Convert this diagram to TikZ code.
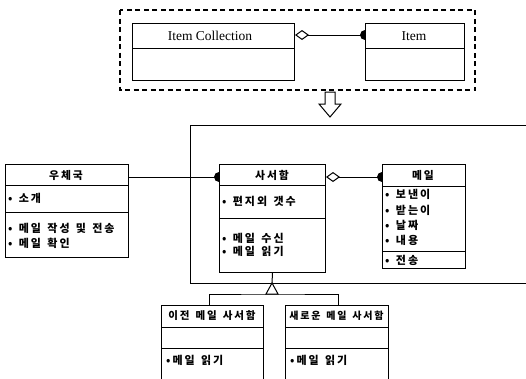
\documentclass[tikz,border=0pt]{standalone}
\usepackage{fontspec}
\setmainfont{Liberation Serif}
\newfontfamily\kr{Noto Sans CJK KR}[LetterSpace=18,WordSpace=1.4]
\usetikzlibrary{arrows.meta,calc}
\begin{document}
\begin{tikzpicture}[x=1pt,y=-1pt,
  ln/.style={line width=1pt},
  cls/.style={draw, fill=white, line width=1pt, inner sep=0pt, anchor=north west},
  en/.style={font=\fontsize{13.5}{15}\selectfont, inner sep=0pt},
  kh/.style={font=\kr\bfseries\fontsize{10.8}{12}\selectfont, inner sep=0pt},
  kt/.style={font=\kr\bfseries\fontsize{11}{12}\selectfont, inner sep=0pt, anchor=west}]
\useasboundingbox (0,0) rectangle (526,378);
\clip (0,0) rectangle (526,378);

% upper pattern
\draw[line width=1.3pt, dash pattern=on 5pt off 3.5pt] (120,10) rectangle (475,90);
\node[cls, minimum width=162pt, minimum height=57pt] (ic) at (132,23) {};
\node[cls, minimum width=99pt, minimum height=57pt] (it) at (365,23) {};
\draw[ln] (ic.west |- 0,48) -- (ic.east |- 0,48);
\draw[ln] (it.west |- 0,48) -- (it.east |- 0,48);
\node[en] (ict) at (210,36) {Item Collection};
\node[en] (itt) at (414,36) {Item};
\draw[ln, {Diamond[open,length=14pt,width=10pt]}-] (ic.east |- 0,35) -- (it.west |- 0,35);
\fill ($(it.west |- 0,35)+(0,-5)$) arc[start angle=90,end angle=270,radius=5pt] -- cycle;

% big hollow arrow
\draw[ln, fill=white] (325,92) -- (335,92) -- (335,104) -- (341,104) -- (330,117) -- (319,104) -- (325,104) -- cycle;

% frame
\draw[ln] (526,125) -- (190,125) -- (190,283) -- (526,283);

% classes
\node[cls, minimum width=123pt, minimum height=93pt] (wc) at (5,164) {};
\draw[ln] (wc.west |- 0,185) -- (wc.east |- 0,185);
\draw[ln] (wc.west |- 0,212) -- (wc.east |- 0,212);
\node[kh] (wct) at (66,175) {우체국};
\node[kt] (wc1) at (8,198) {• 소개};
\node[kt] (wc2) at (8,228) {• 메일 작성 및 전송};
\node[kt] (wc3) at (8,243) {• 메일 확인};

\node[cls, minimum width=106pt, minimum height=108pt] (ss) at (219,164) {};
\draw[ln] (ss.west |- 0,185) -- (ss.east |- 0,185);
\draw[ln] (ss.west |- 0,218) -- (ss.east |- 0,218);
\node[kh] (sst) at (272,175) {사서함};
\node[kt] (ss1) at (222,201) {• 편지외 갯수};
\node[kt] (ss2) at (222,238) {• 메일 수신};
\node[kt] (ss3) at (222,251) {• 메일 읽기};

\node[cls, minimum width=83pt, minimum height=104pt] (ml) at (382,164) {};
\draw[ln] (ml.west |- 0,186) -- (ml.east |- 0,186);
\draw[ln] (ml.west |- 0,251) -- (ml.east |- 0,251);
\node[kh] (mlt) at (423,175) {메일};
\node[kt] (ml1) at (385,194) {• 보낸이};
\node[kt] (ml2) at (385,210) {• 받는이};
\node[kt] (ml3) at (385,225) {• 날짜};
\node[kt] (ml4) at (385,240) {• 내용};
\node[kt] (ml5) at (385,260) {• 전송};

\node[cls, minimum width=102pt, minimum height=100pt] (old) at (161,305) {};
\draw[ln] (old.west |- 0,327) -- (old.east |- 0,327);
\draw[ln] (old.west |- 0,348) -- (old.east |- 0,348);
\node[kh, font=\kr\bfseries\fontsize{10.5}{12}\selectfont] (oldt) at (212,316) {이전 메일 사서함};
\node[kt] (old1) at (166,360) {•메일 읽기};

\node[cls, minimum width=103pt, minimum height=100pt] (new) at (285,305) {};
\draw[ln] (new.west |- 0,327) -- (new.east |- 0,327);
\draw[ln] (new.west |- 0,348) -- (new.east |- 0,348);
\node[kh, font=\kr\bfseries\fontsize{10}{12}\selectfont] (newt) at (336.5,316) {새로운 메일 사서함};
\node[kt] (new1) at (290,360) {•메일 읽기};

% connectors
\draw[ln] (wc.east |- 0,177) -- (ss.west |- 0,177);
\fill ($(ss.west |- 0,177)+(0,-5)$) arc[start angle=90,end angle=270,radius=5pt] -- cycle;
\draw[ln, {Diamond[open,length=14pt,width=10pt]}-] (ss.east |- 0,177) -- (ml.west |- 0,177);
\fill ($(ml.west |- 0,177)+(0,-5)$) arc[start angle=90,end angle=270,radius=5pt] -- cycle;

% inheritance
\coordinate (apex) at (272,283);
\coordinate (tb) at (272,294);
\draw[ln] (ss.south) -- (apex);
\draw[ln] (old.north -| 209,0) |- (tb) -| (new.north -| 338,0);
\draw[ln, fill=white] (apex) -- (266,294) -- (278,294) -- cycle;
\end{tikzpicture}
\end{document}
